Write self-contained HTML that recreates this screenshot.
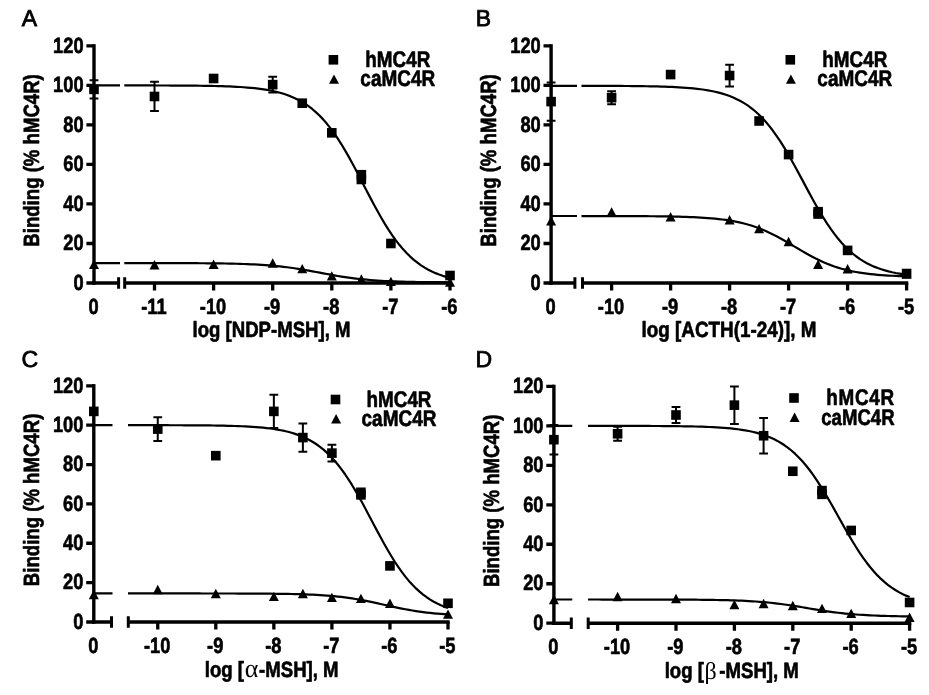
<!DOCTYPE html>
<html lang="en">
<head>
<meta charset="utf-8">
<title>Competitive binding curves: hMC4R vs caMC4R</title>
<style>
html,body{margin:0;padding:0;background:#fff;}
body{width:929px;height:695px;overflow:hidden;}
svg{display:block;}
svg text{font-family:"Liberation Sans", sans-serif;fill:#000;text-rendering:geometricPrecision;}
svg text.gk{font-family:"Liberation Serif","DejaVu Serif",serif;font-weight:normal;}
svg text[font-weight=normal]{stroke:#000;stroke-width:0.8px;}
svg text[font-weight=bold]{stroke:#000;stroke-width:0.65px;stroke-linejoin:round;}
svg path.l{stroke:#000;fill:none;}
svg rect{fill:#000;}
</style>
</head>
<body>
<svg width="929" height="695" viewBox="0 0 929 695" fill="#000" stroke="none">
<rect x="0" y="0" width="929" height="695" style="fill:#fff"/>
<g id="panel-A">
<text transform="translate(21.70,26.00) scale(1,1)" font-size="23.0" font-weight="normal" text-anchor="start">A</text>
<text transform="translate(39.45,160.45) rotate(-90) scale(0.845,1)" font-size="22" font-weight="bold" text-anchor="middle">Binding (% hMC4R)</text>
<text transform="translate(271.50,337.00) scale(0.845,1)" font-size="22" font-weight="bold" text-anchor="middle">log [NDP-MSH], M</text>
<path d="M94.00,44.20V284.70" stroke-width="3.4" class="l"/>
<path d="M92.30,283.00H118.60M124.70,283.00H451.70" stroke-width="3.4" class="l"/>
<path d="M118.60,277.20v11.60M124.70,277.20v11.60" stroke-width="3.0" class="l"/>
<text transform="translate(83.60,289.70) scale(0.83,1)" font-size="22" font-weight="bold" text-anchor="end">0</text>
<text transform="translate(83.60,250.18) scale(0.83,1)" font-size="22" font-weight="bold" text-anchor="end">20</text>
<text transform="translate(83.60,210.67) scale(0.83,1)" font-size="22" font-weight="bold" text-anchor="end">40</text>
<text transform="translate(83.60,171.15) scale(0.83,1)" font-size="22" font-weight="bold" text-anchor="end">60</text>
<text transform="translate(83.60,131.63) scale(0.83,1)" font-size="22" font-weight="bold" text-anchor="end">80</text>
<text transform="translate(83.60,92.12) scale(0.83,1)" font-size="22" font-weight="bold" text-anchor="end">100</text>
<text transform="translate(83.60,52.60) scale(0.83,1)" font-size="22" font-weight="bold" text-anchor="end">120</text>
<text transform="translate(93.50,313.50) scale(0.83,1)" font-size="22" font-weight="bold" text-anchor="middle">0</text>
<text transform="translate(153.90,313.50) scale(0.83,1)" font-size="22" font-weight="bold" text-anchor="middle">-11</text>
<text transform="translate(213.00,313.50) scale(0.83,1)" font-size="22" font-weight="bold" text-anchor="middle">-10</text>
<text transform="translate(272.10,313.50) scale(0.83,1)" font-size="22" font-weight="bold" text-anchor="middle">-9</text>
<text transform="translate(331.20,313.50) scale(0.83,1)" font-size="22" font-weight="bold" text-anchor="middle">-8</text>
<text transform="translate(390.30,313.50) scale(0.83,1)" font-size="22" font-weight="bold" text-anchor="middle">-7</text>
<text transform="translate(449.40,313.50) scale(0.83,1)" font-size="22" font-weight="bold" text-anchor="middle">-6</text>
<path d="M86.40,283.00H94.00M86.40,243.48H94.00M86.40,203.97H94.00M86.40,164.45H94.00M86.40,124.93H94.00M86.40,85.42H94.00M86.40,45.90H94.00M154.50,283.00V290.60M213.60,283.00V290.60M272.70,283.00V290.60M331.80,283.00V290.60M390.90,283.00V290.60M450.00,283.00V290.60" stroke-width="3.3" class="l"/>
<path d="M94.00,85.42H120.00M124.30,85.43L127.92,85.44L131.54,85.44L135.16,85.44L138.78,85.45L142.39,85.45L146.01,85.46L149.63,85.46L153.25,85.47L156.87,85.48L160.49,85.49L164.11,85.50L167.73,85.51L171.35,85.53L174.96,85.54L178.58,85.56L182.20,85.59L185.82,85.61L189.44,85.64L193.06,85.67L196.68,85.71L200.30,85.76L203.92,85.81L207.53,85.87L211.15,85.94L214.77,86.02L218.39,86.11L222.01,86.21L225.63,86.33L229.25,86.47L232.87,86.63L236.49,86.81L240.10,87.02L243.72,87.26L247.34,87.53L250.96,87.85L254.58,88.21L258.20,88.63L261.82,89.11L265.44,89.65L269.06,90.28L272.67,90.99L276.29,91.81L279.91,92.74L283.53,93.81L287.15,95.02L290.77,96.39L294.39,97.95L298.01,99.71L301.63,101.70L305.24,103.93L308.86,106.44L312.48,109.24L316.10,112.36L319.72,115.82L323.34,119.63L326.96,123.81L330.58,128.37L334.20,133.31L337.81,138.63L341.43,144.30L345.05,150.31L348.67,156.62L352.29,163.20L355.91,169.97L359.53,176.90L363.15,183.90L366.77,190.91L370.38,197.87L374.00,204.70L377.62,211.34L381.24,217.74L384.86,223.85L388.48,229.63L392.10,235.06L395.72,240.12L399.34,244.80L402.95,249.10L406.57,253.02L410.19,256.59L413.81,259.81L417.43,262.71L421.05,265.31L424.67,267.63L428.29,269.69L431.91,271.52L435.52,273.14L439.14,274.57L442.76,275.83L446.38,276.93L450.00,277.91" stroke-width="2.2" class="l" stroke-linejoin="round"/>
<path d="M94.00,263.04H120.00M124.30,263.05L127.92,263.05L131.54,263.06L135.16,263.06L138.78,263.06L142.39,263.06L146.01,263.07L149.63,263.07L153.25,263.07L156.87,263.08L160.49,263.08L164.11,263.09L167.73,263.10L171.35,263.10L174.96,263.11L178.58,263.12L182.20,263.13L185.82,263.15L189.44,263.16L193.06,263.18L196.68,263.20L200.30,263.23L203.92,263.25L207.53,263.28L211.15,263.32L214.77,263.36L218.39,263.41L222.01,263.46L225.63,263.52L229.25,263.59L232.87,263.67L236.49,263.76L240.10,263.87L243.72,263.99L247.34,264.12L250.96,264.28L254.58,264.45L258.20,264.64L261.82,264.86L265.44,265.11L269.06,265.38L272.67,265.69L276.29,266.03L279.91,266.40L283.53,266.81L287.15,267.26L290.77,267.74L294.39,268.26L298.01,268.82L301.63,269.40L305.24,270.02L308.86,270.66L312.48,271.32L316.10,272.00L319.72,272.68L323.34,273.36L326.96,274.03L330.58,274.70L334.20,275.34L337.81,275.96L341.43,276.55L345.05,277.11L348.67,277.64L352.29,278.12L355.91,278.58L359.53,278.99L363.15,279.37L366.77,279.71L370.38,280.02L374.00,280.30L377.62,280.55L381.24,280.78L384.86,280.98L388.48,281.15L392.10,281.31L395.72,281.44L399.34,281.57L402.95,281.67L406.57,281.77L410.19,281.85L413.81,281.92L417.43,281.98L421.05,282.04L424.67,282.08L428.29,282.13L431.91,282.16L435.52,282.19L439.14,282.22L442.76,282.25L446.38,282.27L450.00,282.29" stroke-width="2.2" class="l" stroke-linejoin="round"/>
<path d="M94.00,80.28V98.46M89.60,80.28h8.8M89.60,98.46h8.8M154.50,81.86V111.10M150.10,81.86h8.8M150.10,111.10h8.8M272.70,76.72V92.53M268.30,76.72h8.8M268.30,92.53h8.8" stroke-width="2.0" class="l"/>
<rect x="89.20" y="84.57" width="9.6" height="9.6"/>
<rect x="149.70" y="91.68" width="9.6" height="9.6"/>
<rect x="208.80" y="73.70" width="9.6" height="9.6"/>
<rect x="267.90" y="79.83" width="9.6" height="9.6"/>
<rect x="297.45" y="98.40" width="9.6" height="9.6"/>
<rect x="327.00" y="128.04" width="9.6" height="9.6"/>
<rect x="356.55" y="169.92" width="9.6" height="9.6"/>
<rect x="356.55" y="174.67" width="9.6" height="9.6"/>
<rect x="386.10" y="238.68" width="9.6" height="9.6"/>
<rect x="445.20" y="270.69" width="9.6" height="9.6"/>
<path d="M94.00,259.53L99.00,268.93H89.00Z"/>
<path d="M154.50,260.12L159.50,269.52H149.50Z"/>
<path d="M213.60,259.53L218.60,268.93H208.60Z"/>
<path d="M272.70,258.34L277.70,267.74H267.70Z"/>
<path d="M302.25,263.88L307.25,273.28H297.25Z"/>
<path d="M331.80,271.19L336.80,280.59H326.80Z"/>
<path d="M361.35,274.35L366.35,283.75H356.35Z"/>
<path d="M390.90,276.72L395.90,286.12H385.90Z"/>
<path d="M450.00,277.31L455.00,286.71H445.00Z"/>
<rect x="328.60" y="55.00" width="9.6" height="9.6"/>
<path d="M334.00,74.40L339.00,83.80H329.00Z"/>
<text transform="translate(397.80,67.40) scale(0.835,1)" font-size="22.6" font-weight="bold" text-anchor="middle">hMC4R</text>
<text transform="translate(397.80,86.10) scale(0.84,1)" font-size="22.6" font-weight="bold" text-anchor="middle">caMC4R</text>
</g>
<g id="panel-B">
<text transform="translate(475.80,26.00) scale(1,1)" font-size="23.0" font-weight="normal" text-anchor="start">B</text>
<text transform="translate(496.40,160.45) rotate(-90) scale(0.845,1)" font-size="22" font-weight="bold" text-anchor="middle">Binding (% hMC4R)</text>
<text transform="translate(729.00,337.00) scale(0.857,1)" font-size="22" font-weight="bold" text-anchor="middle">log [ACTH(1-24)], M</text>
<path d="M551.10,44.20V284.70" stroke-width="3.4" class="l"/>
<path d="M549.40,283.00H574.90M582.50,283.00H908.30" stroke-width="3.4" class="l"/>
<path d="M574.90,277.20v11.60M582.50,277.20v11.60" stroke-width="3.0" class="l"/>
<text transform="translate(540.70,289.70) scale(0.83,1)" font-size="22" font-weight="bold" text-anchor="end">0</text>
<text transform="translate(540.70,250.18) scale(0.83,1)" font-size="22" font-weight="bold" text-anchor="end">20</text>
<text transform="translate(540.70,210.67) scale(0.83,1)" font-size="22" font-weight="bold" text-anchor="end">40</text>
<text transform="translate(540.70,171.15) scale(0.83,1)" font-size="22" font-weight="bold" text-anchor="end">60</text>
<text transform="translate(540.70,131.63) scale(0.83,1)" font-size="22" font-weight="bold" text-anchor="end">80</text>
<text transform="translate(540.70,92.12) scale(0.83,1)" font-size="22" font-weight="bold" text-anchor="end">100</text>
<text transform="translate(540.70,52.60) scale(0.83,1)" font-size="22" font-weight="bold" text-anchor="end">120</text>
<text transform="translate(550.60,313.50) scale(0.83,1)" font-size="22" font-weight="bold" text-anchor="middle">0</text>
<text transform="translate(611.00,313.50) scale(0.83,1)" font-size="22" font-weight="bold" text-anchor="middle">-10</text>
<text transform="translate(670.00,313.50) scale(0.83,1)" font-size="22" font-weight="bold" text-anchor="middle">-9</text>
<text transform="translate(729.00,313.50) scale(0.83,1)" font-size="22" font-weight="bold" text-anchor="middle">-8</text>
<text transform="translate(788.00,313.50) scale(0.83,1)" font-size="22" font-weight="bold" text-anchor="middle">-7</text>
<text transform="translate(847.00,313.50) scale(0.83,1)" font-size="22" font-weight="bold" text-anchor="middle">-6</text>
<text transform="translate(906.00,313.50) scale(0.83,1)" font-size="22" font-weight="bold" text-anchor="middle">-5</text>
<path d="M543.50,283.00H551.10M543.50,243.48H551.10M543.50,203.97H551.10M543.50,164.45H551.10M543.50,124.93H551.10M543.50,85.42H551.10M543.50,45.90H551.10M611.60,283.00V290.60M670.60,283.00V290.60M729.60,283.00V290.60M788.60,283.00V290.60M847.60,283.00V290.60M906.60,283.00V290.60" stroke-width="3.3" class="l"/>
<path d="M551.10,85.81H577.00M581.50,85.85L585.11,85.85L588.72,85.86L592.34,85.86L595.95,85.87L599.56,85.88L603.17,85.89L606.79,85.90L610.40,85.91L614.01,85.93L617.62,85.95L621.23,85.97L624.85,85.99L628.46,86.02L632.07,86.05L635.68,86.09L639.30,86.13L642.91,86.18L646.52,86.23L650.13,86.30L653.74,86.37L657.36,86.45L660.97,86.55L664.58,86.66L668.19,86.79L671.81,86.94L675.42,87.11L679.03,87.30L682.64,87.53L686.25,87.78L689.87,88.08L693.48,88.42L697.09,88.80L700.70,89.25L704.32,89.76L707.93,90.34L711.54,91.01L715.15,91.77L718.76,92.64L722.38,93.64L725.99,94.76L729.60,96.05L733.21,97.50L736.83,99.15L740.44,101.01L744.05,103.10L747.66,105.45L751.27,108.08L754.89,111.01L758.50,114.26L762.11,117.85L765.72,121.80L769.34,126.10L772.95,130.78L776.56,135.81L780.17,141.20L783.78,146.92L787.40,152.94L791.01,159.23L794.62,165.72L798.23,172.37L801.85,179.12L805.46,185.89L809.07,192.62L812.68,199.25L816.29,205.71L819.91,211.95L823.52,217.93L827.13,223.59L830.74,228.93L834.36,233.90L837.97,238.51L841.58,242.76L845.19,246.64L848.80,250.17L852.42,253.37L856.03,256.25L859.64,258.83L863.25,261.14L866.87,263.19L870.48,265.01L874.09,266.63L877.70,268.05L881.31,269.31L884.93,270.41L888.54,271.38L892.15,272.23L895.76,272.98L899.38,273.63L902.99,274.20L906.60,274.70" stroke-width="2.2" class="l" stroke-linejoin="round"/>
<path d="M551.10,216.02H577.00M581.50,216.03L585.11,216.04L588.72,216.04L592.34,216.04L595.95,216.05L599.56,216.05L603.17,216.05L606.79,216.06L610.40,216.07L614.01,216.07L617.62,216.08L621.23,216.09L624.85,216.10L628.46,216.11L632.07,216.13L635.68,216.14L639.30,216.16L642.91,216.18L646.52,216.21L650.13,216.24L653.74,216.27L657.36,216.31L660.97,216.35L664.58,216.40L668.19,216.46L671.81,216.52L675.42,216.60L679.03,216.69L682.64,216.79L686.25,216.90L689.87,217.03L693.48,217.18L697.09,217.35L700.70,217.55L704.32,217.78L707.93,218.03L711.54,218.33L715.15,218.66L718.76,219.04L722.38,219.47L725.99,219.96L729.60,220.51L733.21,221.14L736.83,221.84L740.44,222.62L744.05,223.50L747.66,224.47L751.27,225.55L754.89,226.74L758.50,228.05L762.11,229.47L765.72,231.00L769.34,232.65L772.95,234.41L776.56,236.28L780.17,238.23L783.78,240.25L787.40,242.34L791.01,244.47L794.62,246.62L798.23,248.77L801.85,250.89L805.46,252.98L809.07,255.00L812.68,256.94L816.29,258.80L819.91,260.55L823.52,262.19L827.13,263.72L830.74,265.13L834.36,266.43L837.97,267.61L841.58,268.69L845.19,269.65L848.80,270.53L852.42,271.31L856.03,272.00L859.64,272.62L863.25,273.17L866.87,273.65L870.48,274.08L874.09,274.46L877.70,274.79L881.31,275.08L884.93,275.33L888.54,275.56L892.15,275.75L895.76,275.92L899.38,276.07L902.99,276.20L906.60,276.31" stroke-width="2.2" class="l" stroke-linejoin="round"/>
<path d="M551.10,82.45V120.78M546.70,82.45h8.8M546.70,120.78h8.8M611.60,91.15V104.19M607.20,91.15h8.8M607.20,104.19h8.8M729.60,64.67V86.40M725.20,64.67h8.8M725.20,86.40h8.8" stroke-width="2.0" class="l"/>
<rect x="546.30" y="96.82" width="9.6" height="9.6"/>
<rect x="606.80" y="92.87" width="9.6" height="9.6"/>
<rect x="665.80" y="69.75" width="9.6" height="9.6"/>
<rect x="724.80" y="70.74" width="9.6" height="9.6"/>
<rect x="754.30" y="116.18" width="9.6" height="9.6"/>
<rect x="783.80" y="149.77" width="9.6" height="9.6"/>
<rect x="813.30" y="206.87" width="9.6" height="9.6"/>
<rect x="813.30" y="209.24" width="9.6" height="9.6"/>
<rect x="842.80" y="245.60" width="9.6" height="9.6"/>
<rect x="901.80" y="268.72" width="9.6" height="9.6"/>
<path d="M551.10,216.06L556.10,225.46H546.10Z"/>
<path d="M611.60,207.17L616.60,216.57H606.60Z"/>
<path d="M670.60,212.11L675.60,221.51H665.60Z"/>
<path d="M729.60,215.07L734.60,224.47H724.60Z"/>
<path d="M759.10,223.96L764.10,233.36H754.10Z"/>
<path d="M788.60,236.81L793.60,246.21H783.60Z"/>
<path d="M818.10,259.53L823.10,268.93H813.10Z"/>
<path d="M847.60,264.07L852.60,273.47H842.60Z"/>
<path d="M906.60,269.41L911.60,278.81H901.60Z"/>
<rect x="785.50" y="55.00" width="9.6" height="9.6"/>
<path d="M790.90,74.40L795.90,83.80H785.90Z"/>
<text transform="translate(854.80,67.40) scale(0.835,1)" font-size="22.6" font-weight="bold" text-anchor="middle">hMC4R</text>
<text transform="translate(854.80,86.10) scale(0.84,1)" font-size="22.6" font-weight="bold" text-anchor="middle">caMC4R</text>
</g>
<g id="panel-C">
<text transform="translate(21.40,367.00) scale(1,1)" font-size="23.0" font-weight="normal" text-anchor="start">C</text>
<text transform="translate(39.45,499.90) rotate(-90) scale(0.845,1)" font-size="22" font-weight="bold" text-anchor="middle">Binding (% hMC4R)</text>
<text transform="translate(244.00,677.00) scale(0.845,1)" font-size="22" font-weight="bold" text-anchor="end">log [</text><text x="251.50" y="677.00" font-size="26" text-anchor="middle" class="gk">α</text><text transform="translate(259.10,677.00) scale(0.845,1)" font-size="22" font-weight="bold" text-anchor="start">-MSH], M</text>
<path d="M93.80,384.10V623.70" stroke-width="3.4" class="l"/>
<path d="M92.10,622.00H111.50M128.30,622.00H449.70" stroke-width="3.4" class="l"/>
<path d="M111.50,616.20v11.60M128.30,616.20v11.60" stroke-width="3.0" class="l"/>
<text transform="translate(83.40,628.70) scale(0.83,1)" font-size="22" font-weight="bold" text-anchor="end">0</text>
<text transform="translate(83.40,589.33) scale(0.83,1)" font-size="22" font-weight="bold" text-anchor="end">20</text>
<text transform="translate(83.40,549.97) scale(0.83,1)" font-size="22" font-weight="bold" text-anchor="end">40</text>
<text transform="translate(83.40,510.60) scale(0.83,1)" font-size="22" font-weight="bold" text-anchor="end">60</text>
<text transform="translate(83.40,471.23) scale(0.83,1)" font-size="22" font-weight="bold" text-anchor="end">80</text>
<text transform="translate(83.40,431.87) scale(0.83,1)" font-size="22" font-weight="bold" text-anchor="end">100</text>
<text transform="translate(83.40,392.50) scale(0.83,1)" font-size="22" font-weight="bold" text-anchor="end">120</text>
<text transform="translate(93.30,652.50) scale(0.83,1)" font-size="22" font-weight="bold" text-anchor="middle">0</text>
<text transform="translate(157.15,652.50) scale(0.83,1)" font-size="22" font-weight="bold" text-anchor="middle">-10</text>
<text transform="translate(215.20,652.50) scale(0.83,1)" font-size="22" font-weight="bold" text-anchor="middle">-9</text>
<text transform="translate(273.25,652.50) scale(0.83,1)" font-size="22" font-weight="bold" text-anchor="middle">-8</text>
<text transform="translate(331.30,652.50) scale(0.83,1)" font-size="22" font-weight="bold" text-anchor="middle">-7</text>
<text transform="translate(389.35,652.50) scale(0.83,1)" font-size="22" font-weight="bold" text-anchor="middle">-6</text>
<text transform="translate(447.40,652.50) scale(0.83,1)" font-size="22" font-weight="bold" text-anchor="middle">-5</text>
<path d="M86.20,622.00H93.80M86.20,582.63H93.80M86.20,543.27H93.80M86.20,503.90H93.80M86.20,464.53H93.80M86.20,425.17H93.80M86.20,385.80H93.80M157.75,622.00V629.60M215.80,622.00V629.60M273.85,622.00V629.60M331.90,622.00V629.60M389.95,622.00V629.60M448.00,622.00V629.60" stroke-width="3.3" class="l"/>
<path d="M93.80,425.17H112.50M128.00,425.18L131.56,425.18L135.11,425.18L138.67,425.19L142.22,425.19L145.78,425.19L149.33,425.19L152.89,425.20L156.44,425.20L160.00,425.21L163.56,425.22L167.11,425.22L170.67,425.23L174.22,425.24L177.78,425.25L181.33,425.27L184.89,425.28L188.44,425.30L192.00,425.32L195.56,425.34L199.11,425.37L202.67,425.40L206.22,425.43L209.78,425.47L213.33,425.52L216.89,425.57L220.44,425.64L224.00,425.71L227.56,425.79L231.11,425.88L234.67,425.99L238.22,426.11L241.78,426.26L245.33,426.42L248.89,426.61L252.44,426.83L256.00,427.08L259.56,427.36L263.11,427.69L266.67,428.07L270.22,428.50L273.78,428.99L277.33,429.56L280.89,430.21L284.44,430.95L288.00,431.79L291.56,432.75L295.11,433.85L298.67,435.10L302.22,436.51L305.78,438.12L309.33,439.93L312.89,441.97L316.44,444.26L320.00,446.82L323.56,449.68L327.11,452.86L330.67,456.37L334.22,460.24L337.78,464.46L341.33,469.05L344.89,474.00L348.44,479.31L352.00,484.95L355.56,490.90L359.11,497.12L362.67,503.56L366.22,510.17L369.78,516.89L373.33,523.65L376.89,530.38L380.44,537.01L384.00,543.50L387.56,549.77L391.11,555.79L394.67,561.50L398.22,566.89L401.78,571.92L405.33,576.59L408.89,580.90L412.44,584.84L416.00,588.43L419.56,591.68L423.11,594.61L426.67,597.24L430.22,599.59L433.78,601.68L437.33,603.54L440.89,605.19L444.44,606.65L448.00,607.93" stroke-width="2.2" class="l" stroke-linejoin="round"/>
<path d="M93.80,593.46H112.50M128.00,593.46L131.56,593.46L135.11,593.46L138.67,593.46L142.22,593.46L145.78,593.46L149.33,593.46L152.89,593.46L156.44,593.46L160.00,593.46L163.56,593.46L167.11,593.46L170.67,593.46L174.22,593.46L177.78,593.47L181.33,593.47L184.89,593.47L188.44,593.47L192.00,593.47L195.56,593.47L199.11,593.47L202.67,593.48L206.22,593.48L209.78,593.48L213.33,593.48L216.89,593.49L220.44,593.49L224.00,593.50L227.56,593.50L231.11,593.51L234.67,593.52L238.22,593.53L241.78,593.54L245.33,593.55L248.89,593.56L252.44,593.58L256.00,593.60L259.56,593.62L263.11,593.64L266.67,593.67L270.22,593.70L273.78,593.74L277.33,593.78L280.89,593.83L284.44,593.88L288.00,593.95L291.56,594.02L295.11,594.10L298.67,594.20L302.22,594.30L305.78,594.43L309.33,594.57L312.89,594.72L316.44,594.90L320.00,595.11L323.56,595.34L327.11,595.59L330.67,595.88L334.22,596.20L337.78,596.56L341.33,596.96L344.89,597.40L348.44,597.88L352.00,598.40L355.56,598.97L359.11,599.58L362.67,600.23L366.22,600.92L369.78,601.64L373.33,602.39L376.89,603.16L380.44,603.95L384.00,604.74L387.56,605.54L391.11,606.33L394.67,607.11L398.22,607.86L401.78,608.58L405.33,609.27L408.89,609.92L412.44,610.54L416.00,611.11L419.56,611.63L423.11,612.12L426.67,612.56L430.22,612.96L433.78,613.32L437.33,613.65L440.89,613.94L444.44,614.20L448.00,614.43" stroke-width="2.2" class="l" stroke-linejoin="round"/>
<path d="M157.75,417.29V440.91M153.35,417.29h8.8M153.35,440.91h8.8M273.85,394.66V428.12M269.45,394.66h8.8M269.45,428.12h8.8M302.88,423.40V451.74M298.48,423.40h8.8M298.48,451.74h8.8M331.90,444.85V461.38M327.50,444.85h8.8M327.50,461.38h8.8" stroke-width="2.0" class="l"/>
<rect x="89.00" y="406.59" width="9.6" height="9.6"/>
<rect x="152.95" y="424.30" width="9.6" height="9.6"/>
<rect x="211.00" y="450.88" width="9.6" height="9.6"/>
<rect x="269.05" y="406.59" width="9.6" height="9.6"/>
<rect x="298.07" y="432.77" width="9.6" height="9.6"/>
<rect x="327.10" y="448.32" width="9.6" height="9.6"/>
<rect x="356.12" y="487.49" width="9.6" height="9.6"/>
<rect x="356.12" y="490.05" width="9.6" height="9.6"/>
<rect x="385.15" y="561.10" width="9.6" height="9.6"/>
<rect x="443.20" y="598.50" width="9.6" height="9.6"/>
<path d="M93.80,589.74L98.80,599.14H88.80Z"/>
<path d="M157.75,584.82L162.75,594.22H152.75Z"/>
<path d="M215.80,588.76L220.80,598.16H210.80Z"/>
<path d="M273.85,591.71L278.85,601.11H268.85Z"/>
<path d="M302.88,588.76L307.88,598.16H297.88Z"/>
<path d="M331.90,592.70L336.90,602.10H326.90Z"/>
<path d="M360.93,593.68L365.93,603.08H355.93Z"/>
<path d="M389.95,598.60L394.95,608.00H384.95Z"/>
<path d="M448.00,609.43L453.00,618.83H443.00Z"/>
<rect x="330.70" y="394.70" width="9.6" height="9.6"/>
<path d="M336.10,414.10L341.10,423.50H331.10Z"/>
<text transform="translate(399.00,407.10) scale(0.835,1)" font-size="22.6" font-weight="bold" text-anchor="middle">hMC4R</text>
<text transform="translate(399.00,425.80) scale(0.84,1)" font-size="22.6" font-weight="bold" text-anchor="middle">caMC4R</text>
</g>
<g id="panel-D">
<text transform="translate(475.60,367.00) scale(1,1)" font-size="23.0" font-weight="normal" text-anchor="start">D</text>
<text transform="translate(499.20,500.80) rotate(-90) scale(0.845,1)" font-size="22" font-weight="bold" text-anchor="middle">Binding (% hMC4R)</text>
<text transform="translate(703.90,678.20) scale(0.845,1)" font-size="22" font-weight="bold" text-anchor="end">log [</text><text x="710.60" y="679.00" font-size="24" text-anchor="middle" class="gk">β</text><text transform="translate(719.30,678.20) scale(0.845,1)" font-size="22" font-weight="bold" text-anchor="start">-MSH], M</text>
<path d="M553.90,384.70V624.90" stroke-width="3.4" class="l"/>
<path d="M552.20,623.20H571.30M588.20,623.20H911.30" stroke-width="3.4" class="l"/>
<path d="M571.30,617.40v11.60M588.20,617.40v11.60" stroke-width="3.0" class="l"/>
<text transform="translate(543.50,629.90) scale(0.83,1)" font-size="22" font-weight="bold" text-anchor="end">0</text>
<text transform="translate(543.50,590.43) scale(0.83,1)" font-size="22" font-weight="bold" text-anchor="end">20</text>
<text transform="translate(543.50,550.97) scale(0.83,1)" font-size="22" font-weight="bold" text-anchor="end">40</text>
<text transform="translate(543.50,511.50) scale(0.83,1)" font-size="22" font-weight="bold" text-anchor="end">60</text>
<text transform="translate(543.50,472.03) scale(0.83,1)" font-size="22" font-weight="bold" text-anchor="end">80</text>
<text transform="translate(543.50,432.57) scale(0.83,1)" font-size="22" font-weight="bold" text-anchor="end">100</text>
<text transform="translate(543.50,393.10) scale(0.83,1)" font-size="22" font-weight="bold" text-anchor="end">120</text>
<text transform="translate(553.40,653.70) scale(0.83,1)" font-size="22" font-weight="bold" text-anchor="middle">0</text>
<text transform="translate(617.00,653.70) scale(0.83,1)" font-size="22" font-weight="bold" text-anchor="middle">-10</text>
<text transform="translate(675.40,653.70) scale(0.83,1)" font-size="22" font-weight="bold" text-anchor="middle">-9</text>
<text transform="translate(733.80,653.70) scale(0.83,1)" font-size="22" font-weight="bold" text-anchor="middle">-8</text>
<text transform="translate(792.20,653.70) scale(0.83,1)" font-size="22" font-weight="bold" text-anchor="middle">-7</text>
<text transform="translate(850.60,653.70) scale(0.83,1)" font-size="22" font-weight="bold" text-anchor="middle">-6</text>
<text transform="translate(909.00,653.70) scale(0.83,1)" font-size="22" font-weight="bold" text-anchor="middle">-5</text>
<path d="M546.30,623.20H553.90M546.30,583.73H553.90M546.30,544.27H553.90M546.30,504.80H553.90M546.30,465.33H553.90M546.30,425.87H553.90M546.30,386.40H553.90M617.60,623.20V630.80M676.00,623.20V630.80M734.40,623.20V630.80M792.80,623.20V630.80M851.20,623.20V630.80M909.60,623.20V630.80" stroke-width="3.3" class="l"/>
<path d="M553.90,425.87H572.30M588.00,425.88L591.57,425.88L595.15,425.88L598.72,425.88L602.29,425.88L605.87,425.89L609.44,425.89L613.01,425.89L616.59,425.90L620.16,425.90L623.73,425.91L627.31,425.91L630.88,425.92L634.45,425.93L638.03,425.93L641.60,425.94L645.17,425.96L648.75,425.97L652.32,425.99L655.89,426.00L659.47,426.02L663.04,426.05L666.61,426.07L670.19,426.11L673.76,426.14L677.33,426.18L680.91,426.23L684.48,426.29L688.05,426.35L691.63,426.42L695.20,426.51L698.77,426.60L702.35,426.71L705.92,426.84L709.49,426.99L713.07,427.16L716.64,427.35L720.21,427.57L723.79,427.83L727.36,428.12L730.93,428.46L734.51,428.84L738.08,429.28L741.65,429.79L745.23,430.37L748.80,431.03L752.37,431.79L755.95,432.65L759.52,433.63L763.09,434.75L766.67,436.02L770.24,437.46L773.81,439.08L777.39,440.91L780.96,442.98L784.53,445.29L788.11,447.87L791.68,450.74L795.25,453.93L798.83,457.43L802.40,461.28L805.97,465.47L809.55,470.00L813.12,474.88L816.69,480.08L820.27,485.58L823.84,491.36L827.41,497.36L830.99,503.55L834.56,509.87L838.13,516.25L841.71,522.63L845.28,528.96L848.85,535.17L852.43,541.20L856.00,547.01L859.57,552.54L863.15,557.78L866.72,562.70L870.29,567.28L873.87,571.51L877.44,575.39L881.01,578.94L884.59,582.16L888.16,585.07L891.73,587.69L895.31,590.03L898.88,592.13L902.45,593.99L906.03,595.64L909.60,597.10" stroke-width="2.2" class="l" stroke-linejoin="round"/>
<path d="M553.90,599.52H572.30M588.00,599.52L591.57,599.52L595.15,599.52L598.72,599.52L602.29,599.53L605.87,599.53L609.44,599.53L613.01,599.53L616.59,599.53L620.16,599.53L623.73,599.53L627.31,599.53L630.88,599.54L634.45,599.54L638.03,599.54L641.60,599.54L645.17,599.55L648.75,599.55L652.32,599.56L655.89,599.56L659.47,599.57L663.04,599.58L666.61,599.59L670.19,599.60L673.76,599.61L677.33,599.62L680.91,599.64L684.48,599.65L688.05,599.67L691.63,599.70L695.20,599.72L698.77,599.75L702.35,599.79L705.92,599.83L709.49,599.87L713.07,599.93L716.64,599.99L720.21,600.05L723.79,600.13L727.36,600.22L730.93,600.32L734.51,600.44L738.08,600.57L741.65,600.72L745.23,600.88L748.80,601.07L752.37,601.28L755.95,601.52L759.52,601.78L763.09,602.07L766.67,602.39L770.24,602.74L773.81,603.13L777.39,603.55L780.96,604.00L784.53,604.48L788.11,604.99L791.68,605.53L795.25,606.09L798.83,606.67L802.40,607.26L805.97,607.86L809.55,608.47L813.12,609.07L816.69,609.66L820.27,610.24L823.84,610.79L827.41,611.33L830.99,611.83L834.56,612.31L838.13,612.75L841.71,613.16L845.28,613.54L848.85,613.89L852.43,614.20L856.00,614.49L859.57,614.74L863.15,614.97L866.72,615.18L870.29,615.36L873.87,615.52L877.44,615.67L881.01,615.79L884.59,615.91L888.16,616.01L891.73,616.09L895.31,616.17L898.88,616.23L902.45,616.29L906.03,616.34L909.60,616.39" stroke-width="2.2" class="l" stroke-linejoin="round"/>
<path d="M553.90,424.88V454.48M549.50,424.88h8.8M549.50,454.48h8.8M617.60,426.85V440.67M613.20,426.85h8.8M613.20,440.67h8.8M676.00,407.12V422.91M671.60,407.12h8.8M671.60,422.91h8.8M734.40,386.40V423.89M730.00,386.40h8.8M730.00,423.89h8.8M763.60,417.97V453.49M759.20,417.97h8.8M759.20,453.49h8.8" stroke-width="2.0" class="l"/>
<rect x="549.10" y="434.88" width="9.6" height="9.6"/>
<rect x="612.80" y="428.96" width="9.6" height="9.6"/>
<rect x="671.20" y="410.21" width="9.6" height="9.6"/>
<rect x="729.60" y="400.35" width="9.6" height="9.6"/>
<rect x="758.80" y="430.93" width="9.6" height="9.6"/>
<rect x="788.00" y="466.45" width="9.6" height="9.6"/>
<rect x="817.20" y="485.79" width="9.6" height="9.6"/>
<rect x="817.20" y="489.54" width="9.6" height="9.6"/>
<rect x="846.40" y="525.65" width="9.6" height="9.6"/>
<rect x="904.80" y="597.68" width="9.6" height="9.6"/>
<path d="M553.90,594.82L558.90,604.22H548.90Z"/>
<path d="M617.60,591.86L622.60,601.26H612.60Z"/>
<path d="M676.00,593.83L681.00,603.23H671.00Z"/>
<path d="M734.40,599.75L739.40,609.15H729.40Z"/>
<path d="M763.60,598.77L768.60,608.17H758.60Z"/>
<path d="M792.80,600.74L797.80,610.14H787.80Z"/>
<path d="M822.00,603.70L827.00,613.10H817.00Z"/>
<path d="M851.20,608.63L856.20,618.03H846.20Z"/>
<path d="M909.60,612.58L914.60,621.98H904.60Z"/>
<rect x="789.20" y="393.20" width="9.6" height="9.6"/>
<path d="M794.60,412.60L799.60,422.00H789.60Z"/>
<text transform="translate(860.60,405.00) scale(0.835,1)" font-size="22.6" font-weight="bold" text-anchor="middle" letter-spacing="0.9">hMC4R</text>
<text transform="translate(857.90,424.60) scale(0.822,1)" font-size="22.6" font-weight="bold" text-anchor="middle">caMC4R</text>
</g>
</svg>
</body>
</html>
